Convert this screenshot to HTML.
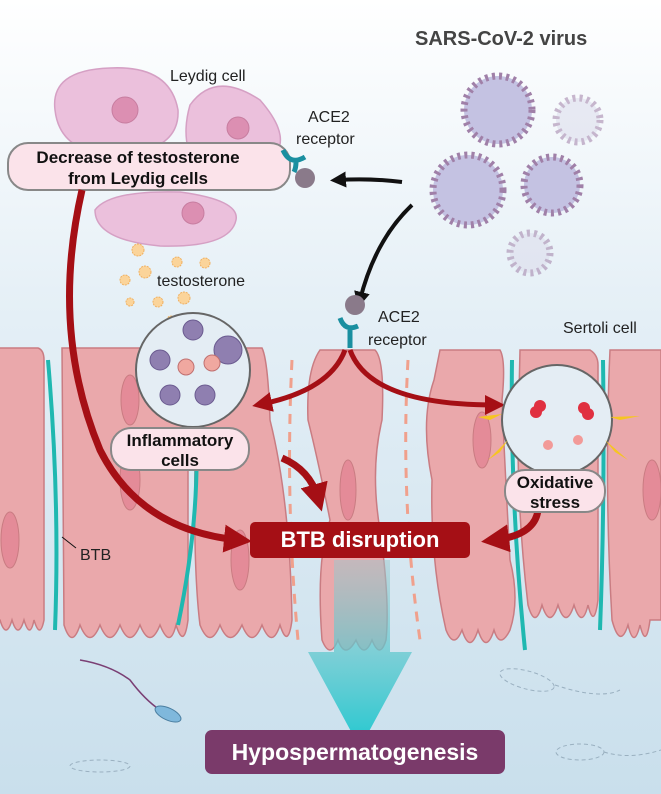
<!DOCTYPE html><html><head><meta charset="utf-8"><style>body{margin:0}svg{display:block}text{font-family:"Liberation Sans",sans-serif}</style></head><body>
<svg width="661" height="794" viewBox="0 0 661 794" xmlns="http://www.w3.org/2000/svg">
<defs>
<linearGradient id="bg" x1="0" y1="0" x2="0" y2="1"><stop offset="0" stop-color="#ffffff"/><stop offset="0.4" stop-color="#e4eff6"/><stop offset="1" stop-color="#c9dfec"/></linearGradient>
<linearGradient id="ta" x1="0" y1="0" x2="0" y2="1"><stop offset="0" stop-color="#9fc8cc" stop-opacity="0.5"/><stop offset="1" stop-color="#1fc8d0"/></linearGradient>
<marker id="ar" viewBox="0 0 10 10" refX="5" refY="5" markerWidth="4" markerHeight="4" orient="auto"><path d="M0,0L10,5L0,10z" fill="#a50f15"/></marker>
<marker id="ab" viewBox="0 0 10 10" refX="5" refY="5" markerWidth="4" markerHeight="4" orient="auto"><path d="M0,0L10,5L0,10z" fill="#111"/></marker>
</defs>
<rect width="661" height="794" fill="url(#bg)"/>
<!-- cells -->
<g fill="#eaa8ab" stroke="#c97c82" stroke-width="1.5">
<path d="M-5,348 H38 Q44,350 44,360 V620 Q40,640 34,620 Q30,640 24,620 Q18,640 12,620 Q6,640 0,620 H-5Z"/>
<path d="M62,348 H180 Q190,350 188,360 V620 Q184,650 176,625 Q170,650 160,625 Q150,650 140,625 Q130,650 120,625 Q110,650 100,625 Q90,650 80,625 Q72,650 64,625 Z"/>
<path d="M198,348 H262 Q268,360 270,420 Q290,500 292,620 Q288,650 280,625 Q272,650 262,625 Q252,650 242,625 Q230,650 220,625 Q210,650 200,625 Q192,560 196,420Z"/>
<path d="M320,350 H375 Q385,360 382,420 Q370,470 380,530 Q390,600 386,640 Q380,660 372,640 Q364,660 356,640 Q345,660 338,640 Q330,660 322,640 Q316,560 330,520 Q318,460 308,420 Q306,370 320,350Z"/>
<path d="M440,350 H500 Q506,360 502,400 Q505,470 510,560 Q520,600 510,630 Q500,650 494,630 Q486,655 478,630 Q470,655 462,630 Q454,650 446,630 Q430,560 432,480 Q420,420 434,380Z"/>
<path d="M520,350 H590 Q598,355 598,365 V600 Q594,630 588,605 Q582,630 574,605 Q566,630 558,605 Q550,630 542,605 Q535,630 528,605 Q518,520 518,440Z"/>
<path d="M610,350 H661 V620 H650 Q646,650 640,625 Q634,650 628,625 Q620,650 612,620 Q604,480 610,350Z"/>
</g>
<g fill="#e48b98" stroke="#c97c82">
<ellipse cx="10" cy="540" rx="9" ry="28"/><ellipse cx="130" cy="400" rx="9" ry="25"/><ellipse cx="130" cy="480" rx="10" ry="30"/>
<ellipse cx="240" cy="560" rx="9" ry="30"/><ellipse cx="348" cy="490" rx="8" ry="30"/><ellipse cx="482" cy="440" rx="9" ry="28"/><ellipse cx="652" cy="490" rx="9" ry="30"/>
</g>
<g stroke="#1fb8b0" stroke-width="4" fill="none">
<path d="M48,360 Q60,500 55,630"/><path d="M196,430 Q200,520 178,625"/><path d="M512,360 Q510,500 525,650"/><path d="M603,360 Q605,500 600,630"/>
</g>
<g stroke="#f0a08c" stroke-width="3" stroke-dasharray="10,8" fill="none"><path d="M292,360 Q285,500 298,640"/><path d="M408,360 Q400,500 420,640"/></g>
<line x1="62" y1="537" x2="76" y2="548" stroke="#111"/>
<text x="80" y="560" font-size="16" fill="#222">BTB</text>
<text x="563" y="333" font-size="16" fill="#222">Sertoli cell</text>
<!-- sperm -->
<g fill="none" stroke="#7a3f74" stroke-width="1.5"><path d="M80,660 Q110,665 130,680 Q145,700 160,710"/></g>
<ellipse cx="168" cy="714" rx="14" ry="6" fill="#7fb8dc" stroke="#4a7ea0" transform="rotate(25 168 714)"/>
<g fill="none" stroke="#9ab0c0" stroke-dasharray="4,3"><ellipse cx="527" cy="680" rx="28" ry="9" transform="rotate(15 527 680)"/><path d="M555,685 Q600,700 620,690"/><ellipse cx="580" cy="752" rx="24" ry="8"/><path d="M604,752 Q630,760 661,750"/><ellipse cx="100" cy="766" rx="30" ry="6"/></g>
<!-- teal arrow -->
<path d="M334,560 H390 V652 H412 L360,748 L308,652 H334Z" fill="url(#ta)"/>
<!-- Leydig -->
<g fill="#ebc0dc" stroke="#d5a0c4" stroke-width="1.5">
<path d="M55,110 Q50,70 110,68 Q170,65 178,110 Q180,150 120,155 Q60,155 55,110Z"/>
<path d="M190,105 Q215,70 260,100 Q295,140 270,160 Q230,175 195,165 Q180,140 190,105Z"/>
<path d="M95,210 Q110,190 180,192 Q240,200 236,220 Q230,248 160,246 Q95,240 95,210Z"/>
</g>
<g fill="#dc8fb2" stroke="#c77da0"><circle cx="125" cy="110" r="13"/><circle cx="238" cy="128" r="11"/><circle cx="193" cy="213" r="11"/></g>
<text x="170" y="81" font-size="16" fill="#222">Leydig cell</text>
<rect x="8" y="143" width="282" height="47" rx="20" fill="#fbe3ea" stroke="#888" stroke-width="2"/>
<text x="138" y="163" font-size="17" font-weight="bold" text-anchor="middle" fill="#111">Decrease of testosterone</text>
<text x="138" y="184" font-size="17" font-weight="bold" text-anchor="middle" fill="#111">from Leydig cells</text>
<g fill="#fbd49a" stroke="#f0b060" stroke-dasharray="2,1"><circle cx="138" cy="250" r="6"/><circle cx="177" cy="262" r="5"/><circle cx="205" cy="263" r="5"/><circle cx="145" cy="272" r="6"/><circle cx="125" cy="280" r="5"/><circle cx="184" cy="298" r="6"/><circle cx="158" cy="302" r="5"/><circle cx="130" cy="302" r="4"/><circle cx="171" cy="320" r="4"/></g>
<text x="157" y="286" font-size="16" fill="#222">testosterone</text>
<!-- ACE2 top -->
<text x="308" y="122" font-size="16" fill="#222">ACE2</text><text x="296" y="144" font-size="16" fill="#222">receptor</text>
<path d="M283,150 Q290,166 305,157 M296,162 Q296,168 294,172" stroke="#1a8fa0" stroke-width="5" fill="none"/>
<circle cx="305" cy="178" r="10" fill="#8a7a8a"/>
<path d="M402,182 Q370,178 338,180" stroke="#111" stroke-width="4" fill="none" marker-end="url(#ab)"/>
<path d="M412,205 Q375,240 360,300" stroke="#111" stroke-width="4" fill="none" marker-end="url(#ab)"/>
<!-- viruses -->
<g stroke="#a080a8" stroke-width="7" stroke-dasharray="3,4">
<circle cx="498" cy="110" r="34" fill="#c4c2e2"/><circle cx="578" cy="120" r="22" fill="#dcdcec" opacity="0.55"/>
<circle cx="468" cy="190" r="35" fill="#c4c2e2"/><circle cx="552" cy="185" r="28" fill="#c4c2e2"/><circle cx="530" cy="253" r="20" fill="#dcdcec" opacity="0.55"/>
</g>
<text x="415" y="45" font-size="20" font-weight="bold" fill="#444">SARS-CoV-2 virus</text>
<!-- ACE2 mid -->
<circle cx="355" cy="305" r="10" fill="#8a7a8a"/>
<path d="M340,318 Q345,332 358,326 M350,330 V348" stroke="#1a8fa0" stroke-width="5" fill="none"/>
<text x="378" y="322" font-size="16" fill="#222">ACE2</text><text x="368" y="345" font-size="16" fill="#222">receptor</text>
<!-- red arrows -->
<g stroke="#a50f15" stroke-width="5" fill="none">
<path d="M345,350 Q330,390 262,404" marker-end="url(#ar)"/>
<path d="M350,350 Q370,405 495,405" marker-end="url(#ar)"/>
<path d="M82,190 Q50,330 100,450 Q140,530 238,540" stroke-width="7" marker-end="url(#ar)"/>
<path d="M282,458 Q310,470 318,498" stroke-width="7" marker-end="url(#ar)"/>
<path d="M538,510 Q535,535 495,540" stroke-width="7" marker-end="url(#ar)"/>
</g>
<!-- insets -->
<circle cx="193" cy="370" r="57" fill="#e4edf4" stroke="#666" stroke-width="2"/>
<g fill="#8f7fb0" stroke="#6a5a8f"><circle cx="160" cy="360" r="10"/><circle cx="170" cy="395" r="10"/><circle cx="205" cy="395" r="10"/><circle cx="193" cy="330" r="10"/><circle cx="228" cy="350" r="14"/></g>
<g fill="#f0a8a0" stroke="#c07070"><circle cx="186" cy="367" r="8"/><circle cx="212" cy="363" r="8"/></g>
<rect x="111" y="428" width="138" height="42" rx="20" fill="#fbe3ea" stroke="#888" stroke-width="2"/>
<text x="180" y="446" font-size="17" font-weight="bold" text-anchor="middle" fill="#111">Inflammatory</text>
<text x="180" y="466" font-size="17" font-weight="bold" text-anchor="middle" fill="#111">cells</text>
<circle cx="557" cy="420" r="55" fill="#e4edf4" stroke="#666" stroke-width="2"/>
<g fill="#e03040"><circle cx="536" cy="412" r="6"/><circle cx="540" cy="406" r="6"/><circle cx="584" cy="408" r="6"/><circle cx="588" cy="414" r="6"/></g>
<g fill="#f29a98"><circle cx="548" cy="445" r="5"/><circle cx="578" cy="440" r="5"/></g>
<g fill="#f6c520"><path d="M478,417 L502,414 L490,420Z"/><path d="M610,417 L640,416 L620,420Z"/><path d="M488,460 L508,440 L500,452Z"/><path d="M628,460 L605,440 L615,452Z"/></g>
<rect x="505" y="470" width="100" height="42" rx="20" fill="#fbe3ea" stroke="#888" stroke-width="2"/>
<text x="555" y="488" font-size="17" font-weight="bold" text-anchor="middle" fill="#111">Oxidative</text>
<text x="555" y="508" font-size="17" font-weight="bold" text-anchor="middle" fill="#111">stress</text>
<!-- BTB -->
<rect x="250" y="522" width="220" height="36" rx="5" fill="#a50f15"/>
<text x="360" y="547" font-size="22" font-weight="bold" text-anchor="middle" fill="#fff">BTB disruption</text>
<rect x="205" y="730" width="300" height="44" rx="7" fill="#7a3a6a"/>
<text x="355" y="760" font-size="23" font-weight="bold" text-anchor="middle" fill="#fff">Hypospermatogenesis</text>
</svg></body></html>
